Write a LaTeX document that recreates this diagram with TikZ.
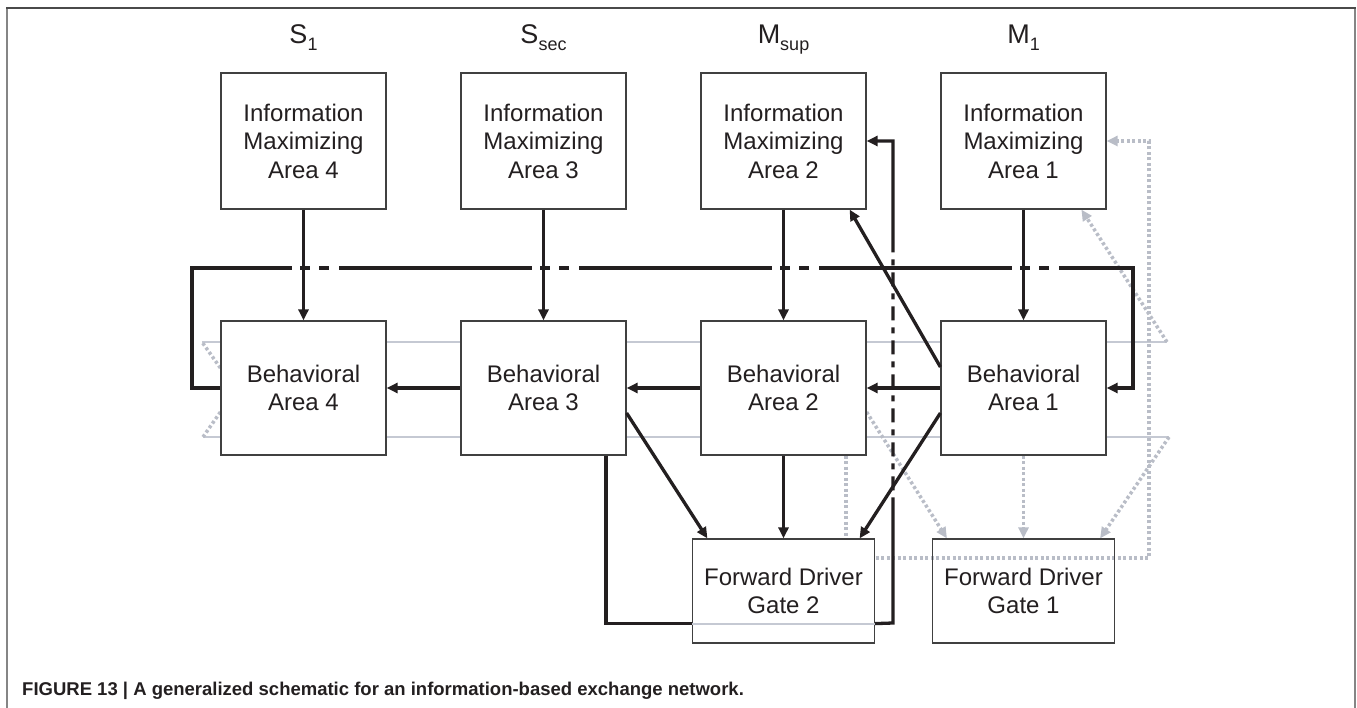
\documentclass[tikz,border=0pt]{standalone}
\usepackage{fontspec}
\setmainfont{Liberation Sans}
\usetikzlibrary{arrows.meta,calc,backgrounds}
\definecolor{ink}{HTML}{231F20}
\definecolor{boxline}{HTML}{404040}
\definecolor{dotgray}{HTML}{B9BDC7}
\definecolor{thingray}{HTML}{C5C9D3}
\definecolor{framegray}{HTML}{858585}
\definecolor{frametop}{HTML}{4A4A4A}
\newcommand\lowsub[1]{\raisebox{-6.5pt}{\fontsize{18}{18}\selectfont #1}}
\begin{document}
\begin{tikzpicture}[x=1pt,y=-1pt,
  box/.style={draw=boxline,line width=1.2pt,fill=white,inner sep=0pt,align=center,
    font=\fontsize{24}{28.5}\selectfont,text=ink},
  infobox/.style={box,minimum width=165pt,minimum height=136pt},
  behbox/.style={box,minimum width=165pt,minimum height=134pt},
  gatebox/.style={box,minimum width=182pt,minimum height=104pt},
  lab/.style={anchor=base,inner sep=0pt,text=ink,font=\fontsize{27}{27}\selectfont},
  conn/.style={draw=ink,line width=3.3pt},
  arr/.style={conn,-{Triangle[length=11pt,width=10pt]}},
  gdot/.style={draw=dotgray,line width=3.5pt,dash pattern=on 3pt off 2.5pt},
  garr/.style={gdot,-{Triangle[length=11pt,width=10pt]}},
  gthin/.style={draw=thingray,line width=1.3pt},
]
\useasboundingbox (0,0) rectangle (1357,708);
% frame
\draw[framegray,line width=2pt] (7,708) -- (7,8);
\draw[framegray,line width=2pt] (1355,8) -- (1355,708);
\draw[frametop,line width=1.5pt] (6,8) -- (1356,8);

% column labels
\node[lab] (lS1) at (303.5,44) {S\lowsub{1}};
\node[lab] (lSs) at (543.5,44) {S\lowsub{sec}};
\node[lab] (lMs) at (783.5,44) {M\lowsub{sup}};
\node[lab] (lM1) at (1023.5,44) {M\lowsub{1}};

% boxes
\node[infobox] (info4) at (303.5,141) {Information\\Maximizing\\Area 4};
\node[infobox] (info3) at (543.5,141) {Information\\Maximizing\\Area 3};
\node[infobox] (info2) at (783.5,141) {Information\\Maximizing\\Area 2};
\node[infobox] (info1) at (1023.5,141) {Information\\Maximizing\\Area 1};
\node[behbox] (beh4) at (303.5,388) {Behavioral\\Area 4};
\node[behbox] (beh3) at (543.5,388) {Behavioral\\Area 3};
\node[behbox] (beh2) at (783.5,388) {Behavioral\\Area 2};
\node[behbox] (beh1) at (1023.5,388) {Behavioral\\Area 1};
\node[gatebox] (gate2) at (783.5,591) {Forward Driver\\Gate 2};
\node[gatebox,fill=none] (gate1) at (1023.5,591) {Forward Driver\\Gate 1};

% named free points
\coordinate (wrapTL) at (202,342);
\coordinate (wrapBL) at (203,437);
\coordinate (wrapTR) at (1167,342);
\coordinate (wrapBR) at (1169,437);
\coordinate (fbx) at (1149,558);
\coordinate (g2l) at ($(gate2.south west)+(0,-20)$);
\coordinate (g2r) at ($(gate2.south east)+(0,-20)$);

\begin{pgfonlayer}{background}
  \draw[gthin] (wrapTL) -- (wrapTR);
  \draw[gthin] (wrapBL) -- (wrapBR);
  \draw[gdot] ($(beh4.west)+(0,-20)$) -- (wrapTL);
  \draw[gdot] ($(beh4.west)+(0,24)$) -- (wrapBL);
  \draw[garr] (wrapTR) -- ($(info1.south west)+(141,0)$);
  \draw[garr] (wrapBR) -- ($(gate1.north east)+(-15,0)$);
  \draw[garr] ($(beh2.east)+(0,24)$) -- ($(gate1.north west)+(15,0)$);
  \draw[garr] (beh1.south) -- (gate1.north);
  \draw[garr] ($(beh2.south)+(62.5,0)$) |- (fbx) |- (info1.east);
\end{pgfonlayer}

% info -> behavioral
\foreach \k in {1,2,3,4}{\draw[arr] (info\k.south) -- (beh\k.north);}
% behavioral chain
\draw[arr] (beh1.west) -- (beh2.east);
\draw[arr] (beh2.west) -- (beh3.east);
\draw[arr] (beh3.west) -- (beh4.east);
% diagonals
\draw[arr] ($(beh1.west)+(0,-21)$) -- ($(info2.south east)+(-17,0)$);
\draw[arr] ($(beh3.east)+(0,25)$) -- ($(gate2.north west)+(15.5,0)$);
\draw[arr] ($(beh1.west)+(0,25)$) -- ($(gate2.north east)+(-15.5,0)$);
\draw[arr] (beh2.south) -- (gate2.north);
% top dash-dot loop
\draw[arr,dash pattern={on 248.5pt off 8pt on 10pt off 9pt on 10pt off 10pt
  on 193pt off 8pt on 10pt off 9pt on 10pt off 10pt
  on 193pt off 8pt on 10pt off 9pt on 10pt off 10pt
  on 193pt off 8pt on 10pt off 9pt on 10pt off 10pt on 600pt off 1pt}]
  (beh4.west) -- (192,388) -- (192,268) -- (1133,268) -- (1133,388) -- (beh1.east);
% loop through gate 2
\draw[conn] ($(beh3.south)+(62.5,0)$) |- (g2l);
\draw[thingray,line width=2pt] (g2l) -- (g2r);
\draw[arr,dash pattern={on 143.5pt off 7pt on 14pt off 7pt on 6pt off 7pt on 14pt off 7pt on 6pt
  off 7pt on 14pt off 7pt on 6pt off 7pt on 14pt off 7pt on 6pt off 7pt on 14pt off 7pt on 6pt
  off 7pt on 14pt off 7pt on 6pt off 7pt on 14pt off 7pt on 6pt off 7pt on 600pt off 1pt}]
  (g2r) -- (893,623) -- (893,141) -- (info2.east);

% caption
\node[anchor=base west,inner sep=0pt,text=ink,font=\bfseries\fontsize{18.5}{18.5}\selectfont] (cap) at (22,695)
  {FIGURE 13 | A generalized schematic for an information-based exchange network.};
\end{tikzpicture}
\end{document}
